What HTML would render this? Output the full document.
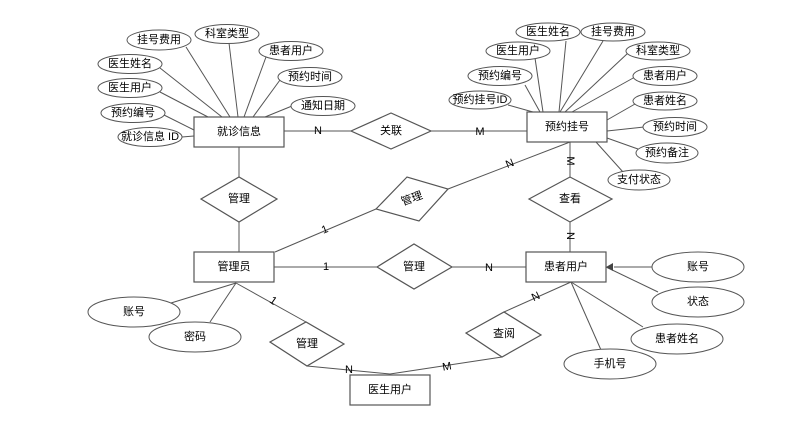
<!DOCTYPE html>
<html><head><meta charset="utf-8"><style>
html,body{margin:0;padding:0;background:#fff;}
svg text{font-family:"Liberation Sans","Noto Sans CJK SC",sans-serif;font-size:11px;fill:#000;text-anchor:middle;dominant-baseline:central;}
</style></head><body>
<svg width="787" height="426" viewBox="0 0 787 426" xmlns="http://www.w3.org/2000/svg">
<g stroke="#555" stroke-width="1" fill="none">
<!-- 就诊信息 attribute lines -->
<line x1="186" y1="47" x2="230" y2="117"/>
<line x1="229" y1="43" x2="238" y2="117"/>
<line x1="266" y1="57" x2="244" y2="117"/>
<line x1="160" y1="68" x2="222" y2="117"/>
<line x1="280" y1="80" x2="253" y2="117"/>
<line x1="160" y1="92" x2="208" y2="117"/>
<line x1="292" y1="106" x2="265" y2="117"/>
<line x1="164" y1="115" x2="194" y2="130"/>
<line x1="182" y1="137" x2="194" y2="136"/>
<!-- 预约挂号 attribute lines -->
<line x1="566" y1="41" x2="559" y2="112"/>
<line x1="603" y1="41" x2="560" y2="112"/>
<line x1="535" y1="58" x2="543" y2="112"/>
<line x1="628" y1="53" x2="565" y2="112"/>
<line x1="525" y1="85" x2="540" y2="112"/>
<line x1="635" y1="77" x2="572" y2="112"/>
<line x1="508" y1="105" x2="533" y2="112"/>
<line x1="635" y1="104" x2="607" y2="120"/>
<line x1="644" y1="127" x2="607" y2="131"/>
<line x1="638" y1="149" x2="607" y2="138"/>
<line x1="623" y1="172" x2="596" y2="142"/>
<!-- relations -->
<line x1="284" y1="131" x2="351" y2="131"/>
<line x1="431" y1="131" x2="527" y2="131"/>
<line x1="239" y1="147" x2="239" y2="177"/>
<line x1="239" y1="222" x2="239" y2="252"/>
<line x1="275" y1="252" x2="376" y2="209"/>
<line x1="448" y1="189" x2="570" y2="142"/>
<line x1="570" y1="142" x2="570" y2="177"/>
<line x1="570" y1="222" x2="570" y2="252"/>
<line x1="274" y1="267" x2="377" y2="267"/>
<line x1="452" y1="267" x2="526" y2="267"/>
<line x1="236" y1="283" x2="171" y2="303"/>
<line x1="236" y1="283" x2="210" y2="322"/>
<line x1="236" y1="283" x2="306" y2="322"/>
<line x1="307" y1="366" x2="390" y2="374"/>
<line x1="502" y1="357" x2="390" y2="374"/>
<line x1="504" y1="312" x2="571" y2="282"/>
<line x1="571" y1="282" x2="643" y2="327"/>
<line x1="571" y1="282" x2="601" y2="350"/>
<line x1="653" y1="267" x2="614" y2="267"/>
<line x1="658" y1="292" x2="606" y2="267"/>
</g>
<polygon points="606,267 613,263 613,271" fill="#444"/>
<g stroke="#555" stroke-width="1.2" fill="#fff">
<rect x="194" y="117" width="90" height="30"/>
<rect x="527" y="112" width="80" height="30"/>
<rect x="194" y="252" width="80" height="30"/>
<rect x="526" y="252" width="80" height="30"/>
<rect x="350" y="375" width="80" height="30"/>
<polygon points="351,131 391,113 431,131 391,149"/>
<polygon points="201,199 239,177 277,199 239,222"/>
<polygon points="376,209 407,177 448,189 419,221"/>
<polygon points="529,199 570,177 612,199 570,222"/>
<polygon points="377,267 414,244 452,267 414,289"/>
<polygon points="270,342 306,322 344,344 307,366"/>
<polygon points="466,333 504,312 541,335 502,357"/>
</g>
<g stroke="#555" stroke-width="1" fill="#fff">
<ellipse cx="159" cy="40" rx="32" ry="10"/>
<ellipse cx="227" cy="34" rx="32" ry="9.5"/>
<ellipse cx="291" cy="51" rx="32" ry="9.5"/>
<ellipse cx="130" cy="64" rx="32" ry="9.5"/>
<ellipse cx="310" cy="77" rx="32" ry="9.5"/>
<ellipse cx="130" cy="88" rx="32" ry="9.5"/>
<ellipse cx="323" cy="106" rx="32" ry="9.5"/>
<ellipse cx="133" cy="113" rx="32" ry="9.5"/>
<ellipse cx="150" cy="137" rx="32" ry="9.5"/>
<ellipse cx="548" cy="32" rx="32" ry="9"/>
<ellipse cx="613" cy="32" rx="32" ry="9"/>
<ellipse cx="518" cy="51" rx="32" ry="9"/>
<ellipse cx="658" cy="51" rx="32" ry="9"/>
<ellipse cx="500" cy="76" rx="32" ry="9.5"/>
<ellipse cx="665" cy="76" rx="32" ry="9.5"/>
<ellipse cx="480" cy="100" rx="31" ry="9"/>
<ellipse cx="665" cy="101" rx="32" ry="9"/>
<ellipse cx="675" cy="127" rx="32" ry="9.5"/>
<ellipse cx="667" cy="153" rx="31" ry="10"/>
<ellipse cx="639" cy="180" rx="31" ry="10"/>
<ellipse cx="134" cy="312" rx="46" ry="15"/>
<ellipse cx="195" cy="337" rx="46" ry="15"/>
<ellipse cx="698" cy="267" rx="46" ry="15"/>
<ellipse cx="698" cy="302" rx="46" ry="15"/>
<ellipse cx="677" cy="339" rx="46" ry="15"/>
<ellipse cx="610" cy="364" rx="46" ry="15"/>
</g>
<g>
<text x="239" y="132">就诊信息</text>
<text x="567" y="127">预约挂号</text>
<text x="234" y="267">管理员</text>
<text x="566" y="267">患者用户</text>
<text x="390" y="390">医生用户</text>
<text x="391" y="131">关联</text>
<text x="239" y="199">管理</text>
<text x="412" y="199" transform="rotate(-20 412 199)">管理</text>
<text x="570" y="199">查看</text>
<text x="414" y="267">管理</text>
<text x="307" y="344">管理</text>
<text x="504" y="334">查阅</text>
<text x="159" y="40">挂号费用</text>
<text x="227" y="34">科室类型</text>
<text x="291" y="51">患者用户</text>
<text x="130" y="64">医生姓名</text>
<text x="310" y="77">预约时间</text>
<text x="130" y="88">医生用户</text>
<text x="323" y="106">通知日期</text>
<text x="133" y="113">预约编号</text>
<text x="150" y="137">就诊信息 ID</text>
<text x="548" y="32">医生姓名</text>
<text x="613" y="32">挂号费用</text>
<text x="518" y="51">医生用户</text>
<text x="658" y="51">科室类型</text>
<text x="500" y="76">预约编号</text>
<text x="665" y="76">患者用户</text>
<text x="480" y="100">预约挂号ID</text>
<text x="665" y="101">患者姓名</text>
<text x="675" y="127">预约时间</text>
<text x="667" y="153">预约备注</text>
<text x="639" y="180">支付状态</text>
<text x="134" y="312">账号</text>
<text x="195" y="337">密码</text>
<text x="698" y="267">账号</text>
<text x="698" y="302">状态</text>
<text x="677" y="339">患者姓名</text>
<text x="610" y="364">手机号</text>
<text x="318" y="131">N</text>
<text x="480" y="132">M</text>
<text x="510" y="164" transform="rotate(-22 510 164)">N</text>
<text x="570" y="161" transform="rotate(90 570 161)">M</text>
<text x="570" y="236" transform="rotate(90 570 236)">N</text>
<text x="325" y="230" transform="rotate(-22 325 230)">1</text>
<text x="326" y="267">1</text>
<text x="489" y="268">N</text>
<text x="273" y="301" transform="rotate(35 273 301)">1</text>
<text x="349" y="370">N</text>
<text x="447" y="367" transform="rotate(-10 447 367)">M</text>
<text x="536" y="297" transform="rotate(-25 536 297)">N</text>
</g>
</svg>
</body></html>
